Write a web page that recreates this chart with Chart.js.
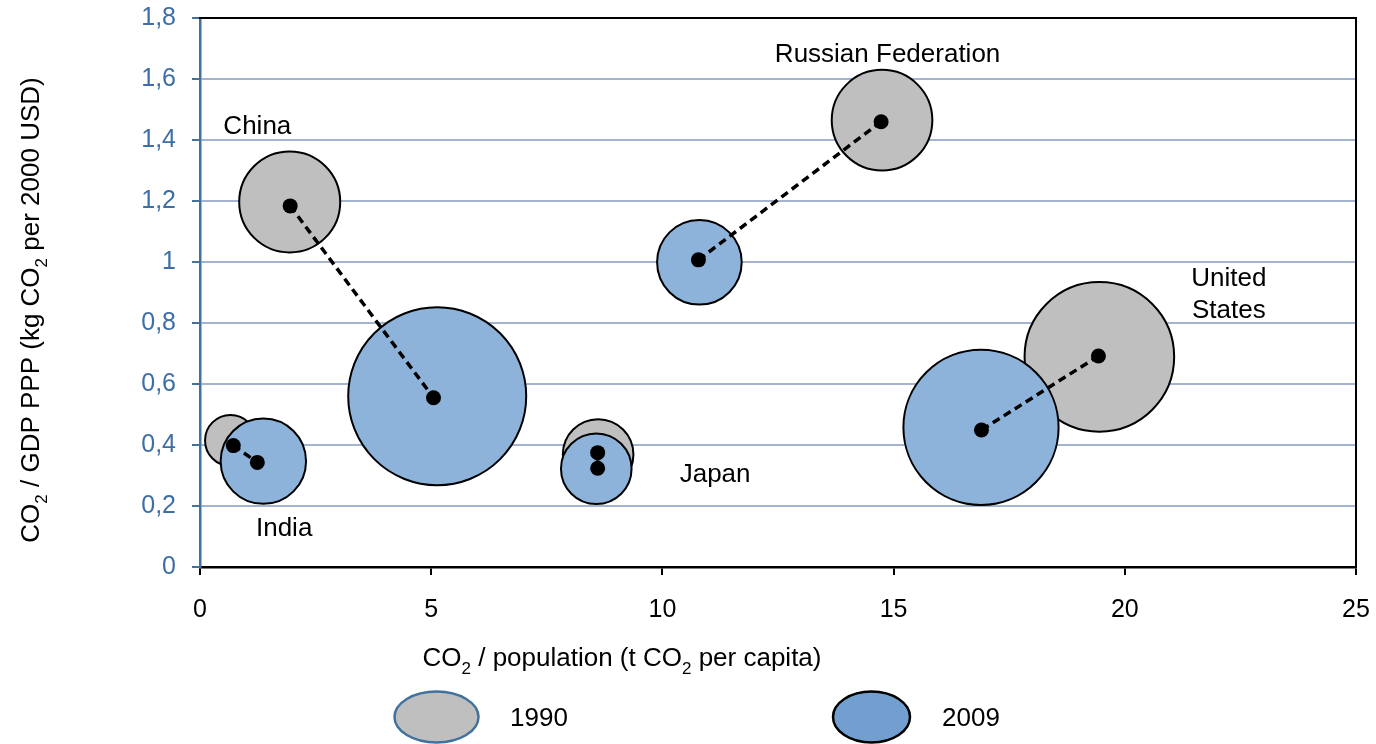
<!DOCTYPE html>
<html>
<head>
<meta charset="utf-8">
<script src="https://cdn.jsdelivr.net/npm/chart.js@4.4.1/dist/chart.umd.min.js"></script>
<style>
  html, body { margin: 0; padding: 0; background: #fff; }
  #wrap { width: 1376px; height: 744px; }
</style>
</head>
<body>
<div id="wrap"><canvas id="co2Chart" width="1376" height="744"></canvas></div>
<script>
// CO2 per capita vs CO2 intensity, 1990 and 2009
const countries = ['China', 'India', 'Japan', 'Russian Federation', 'United States'];

// bubble centres (t CO2 per capita, kg CO2 per 2000 USD) and total emissions (Mt CO2)
const perCapita1990 = [1.94, 0.66, 8.61, 14.75, 19.45];
const intensity1990 = [1.197, 0.415, 0.369, 1.465, 0.689];
const emissions1990 = [2200, 560, 1075, 2183, 4827];

const perCapita2009 = [5.13, 1.37, 8.57, 10.80, 16.89];
const intensity2009 = [0.560, 0.347, 0.322, 0.999, 0.458];
const emissions2009 = [6834, 1573, 1075, 1544, 5195];

// black marker series joined by dashed lines
const dotX1990 = [1.95, 0.72, 8.60, 14.73, 19.43];
const dotY1990 = [1.184, 0.398, 0.375, 1.460, 0.692];
const dotX2009 = [5.05, 1.24, 8.60, 10.78, 16.90];
const dotY2009 = [0.555, 0.343, 0.324, 1.007, 0.449];

// country labels, in data units
const labelX = [1.24, 1.82, 11.14, 14.87, 22.25];
const labelY = [1.443, 0.125, 0.302, 1.679, 0.892];
const labelLines = [['China'], ['India'], ['Japan'], ['Russian Federation'], ['United', 'States']];

const xTickStep = 5;
const yTickStep = 0.2;

const FONT = "'Liberation Sans', Arial, sans-serif";
const GRAY = '#bfbfbf';
const BLUE = '#8db3da';
const AXIS_BLUE = '#41719c';
const GRID = '#a4b4d0';

// area-proportional bubble size, like the spreadsheet chart
function bubbleRadius(mt) {
    return 1.0766 * Math.sqrt(mt);
}

function bubbles(xs, ys, sizes) {
    return xs.map((x, i) => ({ x: x, y: ys[i], r: bubbleRadius(sizes[i]) }));
}

const lineSets = countries.map((c, i) => ({
    type: 'line',
    label: c,
    data: [{ x: dotX1990[i], y: dotY1990[i] }, { x: dotX2009[i], y: dotY2009[i] }],
    borderColor: '#000',
    borderWidth: 3.5,
    borderDash: [8, 5],
    pointRadius: 7.5,
    pointBackgroundColor: '#000',
    pointBorderWidth: 0,
    order: 0
}));

// draw text with subscript "2"
function richWidth(ctx, parts, size, subSize) {
    let w = 0;
    parts.forEach(p => {
        ctx.font = (p.sub ? subSize : size) + 'px ' + FONT;
        w += ctx.measureText(p.t).width;
    });
    return w;
}

function drawRich(ctx, parts, cx, cy, size) {
    const subSize = Math.round(size * 0.66);
    let x = cx - richWidth(ctx, parts, size, subSize) / 2;
    ctx.textAlign = 'left';
    ctx.textBaseline = 'alphabetic';
    parts.forEach(p => {
        ctx.font = (p.sub ? subSize : size) + 'px ' + FONT;
        ctx.fillText(p.t, x, cy + size * 0.36 + (p.sub ? size * 0.28 : 0));
        x += ctx.measureText(p.t).width;
    });
}

// keep the plot box where the original has it
function noPad(s) {
    s.paddingTop = 0;
    s.paddingBottom = 0;
    s.paddingLeft = 0;
    s.paddingRight = 0;
}

const extras = {
    id: 'extras',
    afterDatasetsDraw(chart) {
        const ctx = chart.ctx;
        const xs = chart.scales.x, ys = chart.scales.y;
        ctx.save();
        ctx.fillStyle = '#000';
        ctx.font = '26px ' + FONT;
        ctx.textAlign = 'center';
        ctx.textBaseline = 'middle';
        labelLines.forEach((lines, i) => {
            const px = xs.getPixelForValue(labelX[i]);
            const py = ys.getPixelForValue(labelY[i]);
            const lh = 32;
            lines.forEach((t, j) => {
                ctx.fillText(t, px, py + (j - (lines.length - 1) / 2) * lh);
            });
        });
        ctx.restore();
    },
    afterDraw(chart) {
        const ctx = chart.ctx;
        ctx.save();
        ctx.fillStyle = '#000';

        // axis titles
        drawRich(ctx, [
            { t: 'CO' }, { t: '2', sub: true }, { t: ' / population (t CO' },
            { t: '2', sub: true }, { t: ' per capita)' }
        ], 622, 657, 26);

        ctx.save();
        ctx.translate(30, 310);
        ctx.rotate(-Math.PI / 2);
        drawRich(ctx, [
            { t: 'CO' }, { t: '2', sub: true }, { t: ' / GDP PPP (kg CO' },
            { t: '2', sub: true }, { t: ' per 2000 USD)' }
        ], 0, 0, 26);
        ctx.restore();

        // legend
        const items = [
            { cx: 436.5, rx: 42, fill: GRAY, stroke: AXIS_BLUE, text: '1990', tx: 510 },
            { cx: 871.5, rx: 38.5, fill: '#729fcf', stroke: '#000', text: '2009', tx: 942 }
        ];
        items.forEach(it => {
            ctx.beginPath();
            ctx.ellipse(it.cx, 717, it.rx, 25.5, 0, 0, Math.PI * 2);
            ctx.fillStyle = it.fill;
            ctx.fill();
            ctx.lineWidth = 2.5;
            ctx.strokeStyle = it.stroke;
            ctx.stroke();
            ctx.fillStyle = '#000';
            ctx.font = '26px ' + FONT;
            ctx.textAlign = 'left';
            ctx.textBaseline = 'middle';
            ctx.fillText(it.text, it.tx, 719);
        });
        ctx.restore();
    }
};

new Chart(document.getElementById('co2Chart'), {
    type: 'bubble',
    data: {
        datasets: [
            ...lineSets,
            {
                label: '2009',
                data: bubbles(perCapita2009, intensity2009, emissions2009),
                backgroundColor: BLUE,
                borderColor: '#000',
                borderWidth: 2,
                order: 1
            },
            {
                label: '1990',
                data: bubbles(perCapita1990, intensity1990, emissions1990),
                backgroundColor: GRAY,
                borderColor: '#000',
                borderWidth: 2,
                order: 2
            }
        ]
    },
    options: {
        responsive: false,
        animation: false,
        events: [],
        layout: { padding: 0, autoPadding: false },
        plugins: {
            legend: { display: false },
            tooltip: { enabled: false }
        },
        scales: {
            x: {
                type: 'linear',
                position: 'bottom',
                min: 0,
                max: 25,
                afterFit: s => { s.height = 177; noPad(s); },
                ticks: {
                    stepSize: xTickStep,
                    color: '#000',
                    padding: 20,
                    font: { family: FONT, size: 25 }
                },
                grid: {
                    drawOnChartArea: false,
                    tickLength: 8,
                    tickColor: '#000',
                    lineWidth: 2
                },
                border: { color: '#000', width: 2.5 }
            },
            y: {
                type: 'linear',
                position: 'left',
                min: 0,
                max: 1.8,
                afterFit: s => { s.width = 200; noPad(s); },
                ticks: {
                    stepSize: yTickStep,
                    color: '#3d6ea5',
                    padding: 16,
                    font: { family: FONT, size: 25 },
                    callback: v => String(Math.round(v * 10) / 10).replace('.', ',')
                },
                grid: {
                    color: c => (c.tick && (c.tick.value < 0.01 || c.tick.value > 1.79)) ? 'rgba(0,0,0,0)' : GRID,
                    lineWidth: 2,
                    tickLength: 8,
                    tickColor: AXIS_BLUE
                },
                border: { color: AXIS_BLUE, width: 2.5 }
            },
            x2: {
                type: 'linear',
                position: 'top',
                min: 0,
                max: 25,
                afterFit: s => { s.height = 18; noPad(s); },
                ticks: { display: false },
                grid: { display: false },
                border: { color: '#000', width: 2 }
            },
            y2: {
                type: 'linear',
                position: 'right',
                min: 0,
                max: 1.8,
                afterFit: s => { s.width = 20; noPad(s); },
                ticks: { display: false },
                grid: { display: false },
                border: { color: '#000', width: 2 }
            }
        }
    },
    plugins: [extras]
});
</script>
</body>
</html>
